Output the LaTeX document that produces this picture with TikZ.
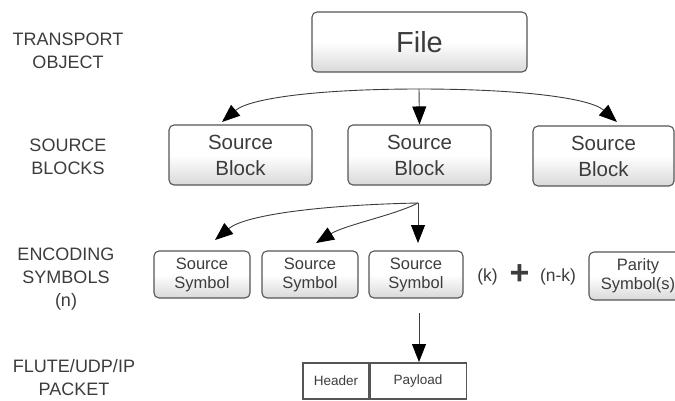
\documentclass[tikz,border=0pt]{standalone}
\usepackage{fontspec}
\setmainfont{Liberation Sans}
\usetikzlibrary{arrows.meta}
\definecolor{ink}{HTML}{3C3C3C}
\definecolor{edge}{HTML}{555555}
\tikzset{
  box/.style={draw=edge, line width=1.1pt, rounded corners=5pt,
    top color=white, bottom color=black!15, middle color=white,
    text=ink, align=center, inner sep=0pt},
  bigbox/.style={box, font=\fontsize{29}{30}\selectfont},
  blockbox/.style={box, font=\fontsize{20.5}{26}\selectfont},
  symbox/.style={box, font=\fontsize{16.5}{19}\selectfont},
  pktcell/.style={draw=edge, line width=1.1pt, fill=white, text=ink,
    inner sep=0pt, minimum height=36pt, font=\fontsize{13.5}{14}\selectfont},
  rowlabel/.style={text=ink, align=center, font=\fontsize{18}{23}\selectfont},
  note/.style={text=ink, font=\fontsize{17.5}{18}\selectfont},
  conn/.style={draw=ink, line width=0.9pt,
    -{Triangle[length=18pt,width=14pt,color=black]}}
}
\begin{document}
\begin{tikzpicture}[x=1pt,y=-1pt]
\useasboundingbox (0,0) rectangle (675,400);

% row labels
\node[rowlabel] (ltrans) at (68,51) {TRANSPORT\\OBJECT};
\node[rowlabel] (lblocks) at (68,157) {SOURCE\\BLOCKS};
\node[rowlabel] (lenc) at (66,279) {ENCODING\\SYMBOLS\\(n)};
\node[rowlabel] (lpkt) at (74,378) {FLUTE/UDP/IP\\PACKET};

% transport object
\node[bigbox, minimum width=215pt, minimum height=60pt] (file) at (419.5,42) {File};

% source blocks
\node[blockbox, minimum width=143pt, minimum height=60pt] (sb1) at (240.5,155) {Source\\Block};
\node[blockbox, minimum width=143pt, minimum height=60pt] (sb2) at (419.5,155) {Source\\Block};
\node[blockbox, minimum width=141pt, minimum height=60pt] (sb3) at (603.5,156) {Source\\Block};

% encoding symbols
\node[symbox, minimum width=96pt, minimum height=47pt] (ss1) at (202,274.5) {Source\\Symbol};
\node[symbox, minimum width=96pt, minimum height=47pt] (ss2) at (310,274.5) {Source\\Symbol};
\node[symbox, minimum width=94pt, minimum height=47pt] (ss3) at (416,274.5) {Source\\Symbol};
\node[note] (k) at (487.5,277) {(k)};
\node[text=ink, font=\fontsize{34}{34}\selectfont\bfseries] (plus) at (519.5,275) {+};
\node[note] (nk) at (558,277) {(n-k)};
\node[symbox, minimum width=98pt, minimum height=48pt] (par) at (638,276) {Parity\\Symbol(s)};

% packet
\node[pktcell, minimum width=66pt] (hdr) at (336,381) {Header};
\node[pktcell, minimum width=96pt, anchor=west] (pay) at (hdr.east) {Payload};

% fan-out from the file to the blocks
\coordinate (fork1) at (419,89);
\coordinate (t1) at (222,122);
\coordinate (t3) at (617,122);
\draw[conn] (fork1) .. controls (320,89) and (250,98) .. (t1);
\draw[conn] (fork1) -- (sb2.north);
\draw[conn] (fork1) .. controls (520,89) and (590,98) .. (t3);

% fan-out from the middle block to the symbols
\coordinate (fork2) at (418,203);
\coordinate (u1) at (215,240);
\coordinate (u2) at (316,243);
\coordinate (u3) at (418,243);
\draw[conn] (fork2) .. controls (320,205) and (245,215) .. (u1);
\draw[conn] (fork2) .. controls (395,215) and (345,225) .. (u2);
\draw[conn] (fork2) -- (u3);

% symbol into the packet payload
\coordinate (v0) at (419,313);
\draw[conn] (v0) -- (419,362);
\end{tikzpicture}
\end{document}
